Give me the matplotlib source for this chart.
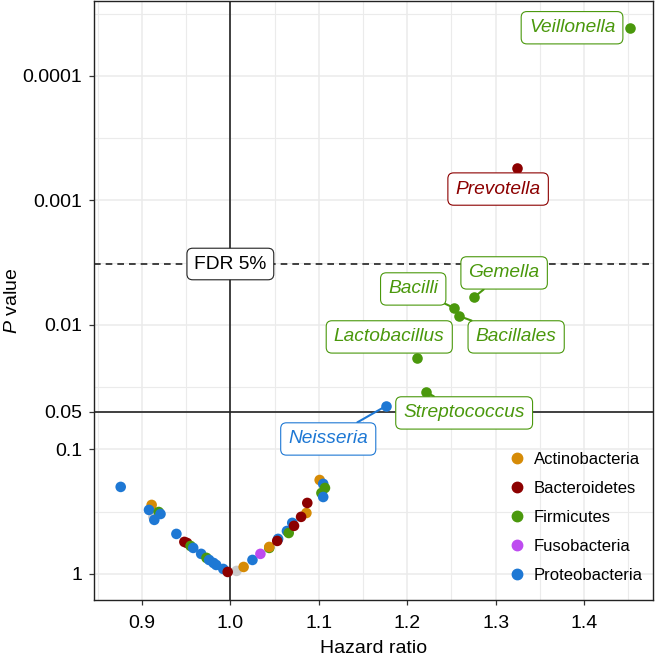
import numpy as np
import matplotlib
matplotlib.use("Agg")
import matplotlib.pyplot as plt
from matplotlib.lines import Line2D
from matplotlib.ticker import FixedLocator, NullFormatter

plt.rcParams['font.family'] = ['Liberation Sans', 'DejaVu Sans']
plt.rcParams['mathtext.fontset'] = 'custom'
plt.rcParams['mathtext.it'] = 'Liberation Sans:italic'
plt.rcParams['mathtext.rm'] = 'Liberation Sans'

# phylum colours
colors = {
    'Actinobacteria': '#D68B06',
    'Bacteroidetes': '#8C0000',
    'Firmicutes': '#4A980C',
    'Fusobacteria': '#BE4BF0',
    'Proteobacteria': '#1E78D4',
    'Other': '#CCCCCC',
}
legend_phyla = ['Actinobacteria', 'Bacteroidetes', 'Firmicutes', 'Fusobacteria', 'Proteobacteria']

# unlabelled taxa (hazard ratio, P value, phylum)
hr = [0.876, 0.913, 0.911, 0.908, 0.919, 0.921, 0.914, 0.939, 0.948, 0.951,
      0.955, 0.958, 0.967, 0.973, 0.976, 0.981, 0.984, 0.992, 1.007, 0.997,
      1.015, 1.025, 1.034, 1.044, 1.044, 1.054, 1.053, 1.064, 1.066, 1.070,
      1.072, 1.086, 1.080, 1.087, 1.101, 1.105, 1.107, 1.103, 1.105]
pval = [0.200, 0.348, 0.279, 0.306, 0.318, 0.330, 0.368, 0.477, 0.553, 0.564,
        0.596, 0.618, 0.690, 0.743, 0.772, 0.816, 0.847, 0.912, 0.946, 0.964,
        0.879, 0.772, 0.690, 0.618, 0.607, 0.523, 0.543, 0.452, 0.469, 0.389,
        0.411, 0.324, 0.348, 0.269, 0.176, 0.189, 0.204, 0.224, 0.241]
phylum = ['Proteobacteria', 'Other', 'Actinobacteria', 'Proteobacteria', 'Firmicutes',
          'Proteobacteria', 'Proteobacteria', 'Proteobacteria', 'Bacteroidetes', 'Bacteroidetes',
          'Firmicutes', 'Proteobacteria', 'Proteobacteria', 'Firmicutes', 'Proteobacteria',
          'Proteobacteria', 'Proteobacteria', 'Proteobacteria', 'Other', 'Bacteroidetes',
          'Actinobacteria', 'Proteobacteria', 'Fusobacteria', 'Firmicutes', 'Actinobacteria',
          'Proteobacteria', 'Bacteroidetes', 'Proteobacteria', 'Firmicutes', 'Proteobacteria',
          'Bacteroidetes', 'Actinobacteria', 'Bacteroidetes', 'Bacteroidetes', 'Actinobacteria',
          'Proteobacteria', 'Firmicutes', 'Firmicutes', 'Proteobacteria']

# labelled taxa
lab_names = ['Veillonella', 'Prevotella', 'Gemella', 'Bacilli', 'Bacillales',
             'Lactobacillus', 'Streptococcus', 'Neisseria']
lab_hr = [1.452, 1.324, 1.276, 1.253, 1.259, 1.211, 1.221, 1.176]
lab_p = [4.1e-5, 5.5e-4, 5.96e-3, 7.3e-3, 8.5e-3, 0.0184, 0.0345, 0.0448]
lab_phylum = ['Firmicutes', 'Bacteroidetes', 'Firmicutes', 'Firmicutes', 'Firmicutes',
              'Firmicutes', 'Firmicutes', 'Proteobacteria']

fdr_p = 0.00324

# label box placement (x, y) and whether a segment is drawn
lab_pos = [(1.3864, 4.1e-5), (1.3028, 8.1e-4), (1.3096, 3.82e-3), (1.2068, 5.14e-3),
           (1.3232, 0.01248), (1.1797, 0.01248), (1.2644, 0.0509), (1.1107, 0.0824)]
lab_seg = [False, False, True, True, True, False, True, True]

fig = plt.figure(figsize=(6.55, 6.59), dpi=100)
ax = fig.add_axes([0.1435, 0.0895, 0.8535, 0.909])

ax.set_yscale('log')
ax.set_xlim(0.8458, 1.478)
ax.set_ylim(1.62, 2.5e-5)

ax.yaxis.set_major_locator(FixedLocator([1, 0.1, 0.05, 0.01, 0.001, 0.0001]))
ax.set_yticklabels(['1', '0.1', '0.05', '0.01', '0.001', '0.0001'])
ax.yaxis.set_minor_locator(FixedLocator([10**-0.5, 10**-1.5, 10**-2.5, 10**-3.5, 10**-4.5]))
ax.yaxis.set_minor_formatter(NullFormatter())
ax.set_xticks([0.9, 1.0, 1.1, 1.2, 1.3, 1.4])
ax.set_xticklabels(['0.9', '1.0', '1.1', '1.2', '1.3', '1.4'])
ax.set_xticks(np.arange(0.85, 1.46, 0.1), minor=True)

ax.grid(True, which='major', color='#EBEBEB', lw=1.1, zorder=0)
ax.grid(True, which='minor', color='#EBEBEB', lw=0.8, zorder=0)
ax.set_axisbelow(True)
ax.tick_params(which='major', length=3.8, width=0.9, color='#333333', labelsize=14, labelcolor='black')
ax.tick_params(axis='x', which='major', pad=7)
ax.tick_params(axis='y', which='major', pad=4.5)
ax.tick_params(which='minor', length=0)
for s in ax.spines.values():
    s.set_color('#222222')
    s.set_linewidth(1.0)

ax.axvline(1.0, color='#222222', lw=1.2, zorder=1)
ax.axhline(0.05, color='#222222', lw=1.2, zorder=1)
ax.axhline(fdr_p, color='#222222', lw=1.2, ls=(0, (4, 3)), zorder=1)

ax.text(1.0, fdr_p, 'FDR 5%', fontsize=13.8, ha='center', va='center', zorder=5,
        bbox=dict(boxstyle='round,pad=0.38,rounding_size=0.3', fc='white', ec='#222222', lw=0.8))

ax.scatter(hr, pval, c=[colors[p] for p in phylum], s=58, linewidths=0, zorder=3)

for name, x, y, ph, pos, seg in zip(lab_names, lab_hr, lab_p, lab_phylum, lab_pos, lab_seg):
    c = colors[ph]
    ax.scatter([x], [y], color=c, s=58, linewidths=0, zorder=3)
    ap = dict(arrowstyle='-', color=c, lw=1.5, shrinkA=0, shrinkB=0) if seg else None
    ax.annotate(name, xy=(x, y), xytext=pos, textcoords='data', fontsize=13.8, style='italic',
                color=c, ha='center', va='center', zorder=4, arrowprops=ap,
                bbox=dict(boxstyle='round,pad=0.4,rounding_size=0.3', fc='white', ec=c, lw=0.8))

handles = [Line2D([], [], marker='o', ls='', color=colors[p], markersize=7.5) for p in legend_phyla]
ax.legend(handles, legend_phyla, loc='lower right', bbox_to_anchor=(1.0, 0.012), frameon=False,
          fontsize=12, handlelength=1.0, handletextpad=0.55, labelspacing=0.84, borderaxespad=0.2)

ax.set_xlabel('Hazard ratio', fontsize=14)
ax.xaxis.set_label_coords(0.5, -0.067)
ax.set_ylabel(r'$\mathit{P}$ value', fontsize=14)
ax.yaxis.set_label_coords(-0.131, 0.5)

fig.savefig('out.png', dpi=100)
